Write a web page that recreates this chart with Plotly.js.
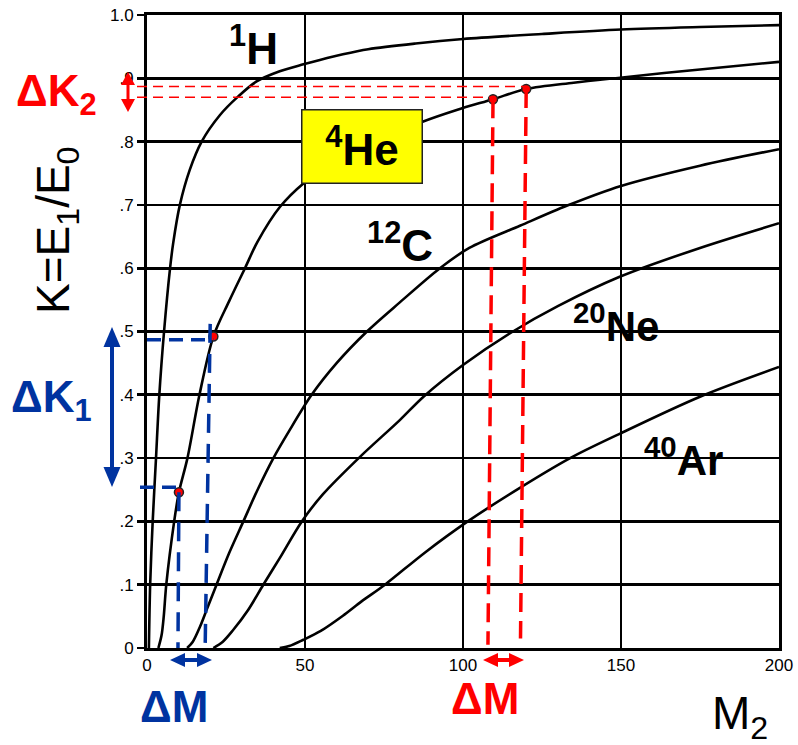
<!DOCTYPE html>
<html>
<head>
<meta charset="utf-8">
<script src="https://cdn.plot.ly/plotly-3.0.1.min.js"></script>
<style>html,body{margin:0;padding:0;background:#fff;}#chart{width:798px;height:745px;}</style>
</head>
<body>
<div id="chart"></div>
<script>
// ---- data ----
const xTickVals = [0, 50, 100, 150, 200];
const xTickText = ['0', '50', '100', '150', '200'];
const yTickVals = [0, 0.1, 0.2, 0.3, 0.4, 0.5, 0.6, 0.7, 0.8, 0.9, 1.0];
const yTickText = ['0', '.1', '.2', '.3', '.4', '.5', '.6', '.7', '.8', '.9', '1.0'];

const h1M = [0.6, 1.0, 1.8, 2.85, 3.9, 5.4, 7.3, 8.3, 10.4, 13.5, 17.3, 23.1, 28.8, 34.7, 42, 49.5, 54.7, 62, 70, 85, 100, 125, 150, 175, 200];
const h1K = [0, 0.1, 0.2, 0.3, 0.4, 0.5, 0.6, 0.64, 0.7, 0.755, 0.8, 0.842, 0.871, 0.895, 0.911, 0.922, 0.929, 0.938, 0.946, 0.955, 0.962, 0.970, 0.977, 0.981, 0.984];

const he4M = [3.6, 4.6, 5.3, 6.1, 8.6, 10.1, 12.8, 16.6, 21, 26, 31, 35, 42.1, 49.5, 60, 75, 87, 98, 109.5, 120, 135, 149.7, 175, 200];
const he4K = [0, 0.02, 0.05, 0.1, 0.2, 0.246, 0.3, 0.4, 0.492, 0.548, 0.6, 0.642, 0.697, 0.734, 0.77, 0.805, 0.831, 0.85, 0.867, 0.883, 0.893, 0.901, 0.914, 0.926];

const c12M = [12.7, 14.5, 16.8, 19, 22, 26, 30.5, 35, 40, 45, 52.1, 60, 69.6, 80, 92.7, 102, 118, 133, 150, 175, 200];
const c12K = [0, 0.01, 0.034, 0.062, 0.1, 0.15, 0.2, 0.25, 0.3, 0.343, 0.4, 0.45, 0.5, 0.546, 0.6, 0.632, 0.667, 0.699, 0.73, 0.762, 0.788];

const ne20M = [21, 24, 27.2, 32, 36.8, 42, 49, 55.7, 67.4, 80, 87.5, 100, 115.8, 130, 149.4, 175, 200];
const ne20K = [0, 0.01, 0.028, 0.06, 0.1, 0.142, 0.2, 0.243, 0.302, 0.36, 0.397, 0.447, 0.5, 0.54, 0.586, 0.632, 0.671];

const ar40M = [42, 45, 49.5, 55, 62, 68, 75.3, 88, 101.5, 118, 133.9, 149.4, 175, 200];
const ar40K = [0, 0.003, 0.013, 0.027, 0.051, 0.074, 0.1, 0.151, 0.2, 0.253, 0.3, 0.338, 0.397, 0.444];

// marked points on the 4He curve
const dotsM = [10.1, 21, 109.5, 120];
const dotsK = [0.246, 0.492, 0.867, 0.883];

// ---- layout helpers (pixel -> paper) ----
const PL = 147, PR = 779, PT = 15, PB = 648;
const px = x => (x - PL) / (PR - PL);
const py = y => (PB - y) / (PB - PT);
const mPaper = m => m / 200;

const BLUE = '#0033A0', RED = '#FF0000';
const FONT = 'Liberation Sans, Arial, sans-serif';

function curve(xs, ys) {
  return {x: xs, y: ys, type: 'scatter', mode: 'lines', line: {color: '#000', width: 2.6, shape: 'spline', smoothing: 0.9}, hoverinfo: 'skip'};
}

const traces = [
  curve(h1M, h1K), curve(he4M, he4K), curve(c12M, c12K), curve(ne20M, ne20K), curve(ar40M, ar40K),
  {x: dotsM, y: dotsK, type: 'scatter', mode: 'markers', cliponaxis: false,
   marker: {color: RED, size: 9, line: {color: '#222', width: 1.5}}, hoverinfo: 'skip'}
];

// arrows built from paper-space triangles
function tri(a, b, c, color) {
  return {type: 'path', xref: 'paper', yref: 'paper', layer: 'above',
    path: `M${px(a[0])},${py(a[1])} L${px(b[0])},${py(b[1])} L${px(c[0])},${py(c[1])} Z`,
    fillcolor: color, line: {color: color, width: 0}};
}
function dblArrow(x1, y1, x2, y2, color, hl, hw, lw) {
  const dx = x2 - x1, dy = y2 - y1, len = Math.hypot(dx, dy);
  const ux = dx / len, uy = dy / len, nx = -uy, ny = ux;
  const b1 = [x1 + ux * hl, y1 + uy * hl], b2 = [x2 - ux * hl, y2 - uy * hl];
  return [
    {type: 'line', xref: 'paper', yref: 'paper', layer: 'above', x0: px(b1[0]), y0: py(b1[1]), x1: px(b2[0]), y1: py(b2[1]), line: {color: color, width: lw}},
    tri([x1, y1], [b1[0] + nx * hw / 2, b1[1] + ny * hw / 2], [b1[0] - nx * hw / 2, b1[1] - ny * hw / 2], color),
    tri([x2, y2], [b2[0] + nx * hw / 2, b2[1] + ny * hw / 2], [b2[0] - nx * hw / 2, b2[1] - ny * hw / 2], color)
  ];
}

const shapes = [
  // blue guides (low-mass pair)
  {type: 'line', xref: 'paper', yref: 'y', x0: px(140), x1: mPaper(dotsM[0]), y0: dotsK[0] + 0.008, y1: dotsK[0] + 0.008, line: {color: BLUE, width: 3.5, dash: '14px,8px'}},
  {type: 'line', xref: 'x', yref: 'y', x0: dotsM[0], x1: dotsM[0] - 0.3, y0: dotsK[0], y1: 0, line: {color: BLUE, width: 3.5, dash: '19px,11px'}},
  {type: 'line', xref: 'paper', yref: 'y', x0: 0, x1: mPaper(dotsM[1]), y0: dotsK[1] - 0.005, y1: dotsK[1] - 0.005, line: {color: BLUE, width: 3.5, dash: '14px,8px'}},
  {type: 'line', xref: 'x', yref: 'y', x0: dotsM[1] - 1, x1: dotsM[1] - 2.6, y0: dotsK[1] + 0.02, y1: 0, line: {color: BLUE, width: 3.5, dash: '19px,11px'}},
  // red guides (heavy-mass pair)
  {type: 'line', xref: 'paper', yref: 'y', x0: px(137), x1: mPaper(dotsM[3]), y0: dotsK[3] + 0.004, y1: dotsK[3] + 0.004, line: {color: RED, width: 1.6, dash: '10px,6px'}},
  {type: 'line', xref: 'paper', yref: 'y', x0: px(137), x1: mPaper(dotsM[2]), y0: dotsK[2] + 0.003, y1: dotsK[2] + 0.003, line: {color: RED, width: 1.6, dash: '10px,6px'}},
  {type: 'line', xref: 'x', yref: 'y', x0: dotsM[2], x1: dotsM[2] - 1.6, y0: dotsK[2], y1: 0.005, line: {color: RED, width: 3.5, dash: '19px,9px'}},
  {type: 'line', xref: 'x', yref: 'y', x0: dotsM[3], x1: dotsM[3] - 1.8, y0: dotsK[3], y1: 0.015, line: {color: RED, width: 3.5, dash: '19px,9px'}}
].concat(
  dblArrow(128, 72, 128, 112, RED, 13, 14, 3),
  dblArrow(112, 327, 112, 487, BLUE, 20, 17, 4),
  dblArrow(170, 660, 212, 660, BLUE, 15, 14, 4),
  dblArrow(483, 660, 524, 660, RED, 15, 14, 4)
);

function lab(text, x, y, size, color, bold, extra) {
  return Object.assign({text: bold ? '<b>' + text + '</b>' : text, xref: 'paper', yref: 'paper', x: px(x), y: py(y),
    xanchor: 'center', yanchor: 'middle', showarrow: false,
    font: {family: FONT, size: size, color: color}}, extra || {});
}

const annotations = [
  lab('<sup>1</sup>H', 253, 45, 44, '#000', true),
  lab('<sup>4</sup>He', 362, 146.5, 44, '#000', true, {bgcolor: '#FFFF00', bordercolor: '#222', borderwidth: 1.5, width: 117, height: 70}),
  lab('<sup>12</sup>C', 400, 242, 44, '#000', true),
  lab('<sup>20</sup>Ne', 616, 323, 42, '#000', true),
  lab('<sup>40</sup>Ar', 683, 457, 42, '#000', true),
  lab('ΔK<sub>2</sub>', 56, 94, 44, RED, true),
  lab('ΔK<sub>1</sub>', 51, 400, 44, BLUE, true),
  lab('ΔM', 173.5, 706, 44, BLUE, true),
  lab('ΔM', 485, 698.5, 44, RED, true),
  lab('M<sub>2</sub>', 740, 716, 46, '#000', false),
  lab('K=E<sub>1</sub>/E<sub>0</sub>', 56, 230, 46, '#000', false, {textangle: -90})
];

const layout = {
  width: 798, height: 745,
  margin: {l: 147, r: 19, t: 15, b: 97, pad: 0},
  paper_bgcolor: '#fff', plot_bgcolor: '#fff',
  showlegend: false,
  font: {family: FONT, color: '#000'},
  xaxis: {range: [0, 200], tickvals: xTickVals, ticktext: xTickText, showgrid: true, gridcolor: '#000', gridwidth: 2,
    showline: true, mirror: true, linecolor: '#000', linewidth: 3, zeroline: false, ticks: '',
    tickfont: {size: 17, color: '#000', family: FONT}, fixedrange: true},
  yaxis: {range: [0, 1], tickvals: yTickVals, ticktext: yTickText, showgrid: true, gridcolor: '#000', gridwidth: 2.6,
    showline: true, mirror: true, linecolor: '#000', linewidth: 3, zeroline: false, ticks: 'outside', ticklen: 7,
    tickwidth: 2.6, tickcolor: '#000', tickfont: {size: 17, color: '#000', family: FONT}, fixedrange: true},
  shapes: shapes,
  annotations: annotations
};

Plotly.newPlot('chart', traces, layout, {staticPlot: true, displayModeBar: false});
</script>
</body>
</html>
